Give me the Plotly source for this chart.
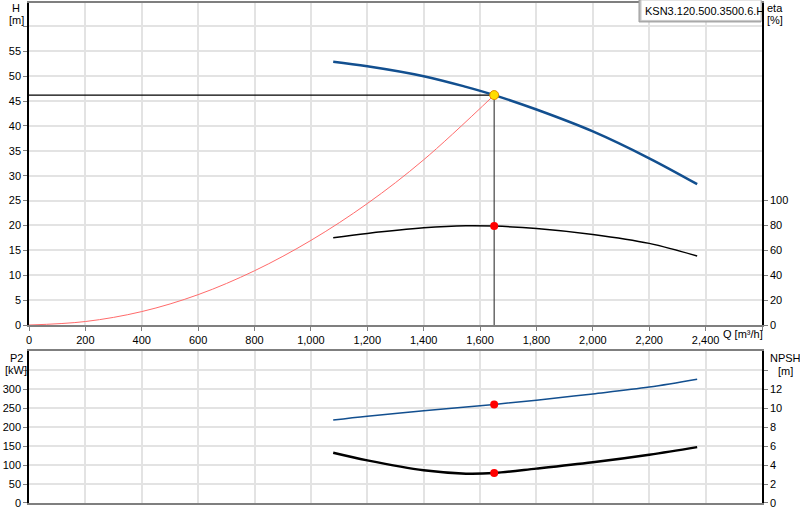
import plotly.graph_objects as go

# ---------------- data ----------------
Q_pump = [1079, 1200, 1400, 1550, 1650, 1800, 2000, 2200, 2370]
H_pump = [52.9, 52.0, 50.0, 47.85, 46.2, 43.3, 38.9, 33.5, 28.3]
eta_pump = [70.1, 73.6, 78.1, 79.8, 79.5, 77.6, 72.8, 65.6, 55.4]
P2_pump = [219, 229, 243.5, 253.5, 260.2, 271.5, 288, 306, 326.7]
NPSH_pump = [5.3, 4.5, 3.45, 3.1, 3.17, 3.63, 4.3, 5.1, 5.9]

Q_sys = [0, 200, 400, 600, 800, 1000, 1200, 1400, 1650]
H_sys = [0, 0.7, 2.7, 6.1, 10.9, 17.0, 24.4, 33.2, 46.2]

Q_duty = 1650
H_duty = 46.2
eta_duty = 79.5
P2_duty = 260.2
NPSH_duty = 3.17

x_ticks = [0, 200, 400, 600, 800, 1000, 1200, 1400, 1600, 1800, 2000, 2200, 2400, 2600]
x_labels = ["0", "200", "400", "600", "800", "1,000", "1,200", "1,400", "1,600",
            "1,800", "2,000", "2,200", "2,400", ""]
H_ticks = [0, 5, 10, 15, 20, 25, 30, 35, 40, 45, 50, 55, 60]
H_labels = ["0", "5", "10", "15", "20", "25", "30", "35", "40", "45", "50", "55", ""]
eta_ticks = [0, 20, 40, 60, 80, 100]
P2_ticks = [0, 50, 100, 150, 200, 250, 300, 350]
P2_labels = ["0", "50", "100", "150", "200", "250", "300", ""]
NPSH_ticks = [0, 2, 4, 6, 8, 10, 12, 14]
NPSH_labels = ["0", "2", "4", "6", "8", "10", "12", ""]
pump_name = "KSN3.120.500.3500.6.H"

# ---------------- geometry ----------------
W, Hh = 800, 520
ML, MR, MT, MB = 29, 38, 1, 17
PW = W - ML - MR
PH = Hh - MT - MB


def px(x):
    return (x - ML) / PW


def py(y):
    return (Hh - MB - y) / PH


FONT = "Liberation Sans, Arial, sans-serif"
GRID = "#e3e3e3"
BLUE = "#124f8f"

fig = go.Figure()

# system curve
fig.add_trace(go.Scatter(x=Q_sys, y=H_sys, mode="lines", line=dict(color="#ff6b6b", width=1, shape="spline"),
                         xaxis="x", yaxis="y", hoverinfo="skip"))
# crosshair lines
fig.add_trace(go.Scatter(x=[0, Q_duty], y=[H_duty, H_duty], mode="lines",
                         line=dict(color="#000000", width=1.2), xaxis="x", yaxis="y"))
fig.add_trace(go.Scatter(x=[Q_duty, Q_duty], y=[H_duty, 0], mode="lines",
                         line=dict(color="#444444", width=1.2), xaxis="x", yaxis="y"))
# H curve
fig.add_trace(go.Scatter(x=Q_pump, y=H_pump, mode="lines", line=dict(color=BLUE, width=2.5, shape="spline"),
                         xaxis="x", yaxis="y"))
# eta curve
fig.add_trace(go.Scatter(x=Q_pump, y=eta_pump, mode="lines", line=dict(color="#000000", width=1.5, shape="spline"),
                         xaxis="x", yaxis="y2"))
fig.add_trace(go.Scatter(x=[Q_duty], y=[eta_duty], mode="markers",
                         marker=dict(color="#ff0000", size=8), xaxis="x", yaxis="y2"))
fig.add_trace(go.Scatter(x=[Q_duty], y=[H_duty], mode="markers",
                         marker=dict(color="#ffdd00", size=9, line=dict(color="#e08a00", width=1)),
                         xaxis="x", yaxis="y"))
# P2 curve
fig.add_trace(go.Scatter(x=Q_pump, y=P2_pump, mode="lines", line=dict(color=BLUE, width=1.5, shape="spline"),
                         xaxis="x2", yaxis="y3"))
fig.add_trace(go.Scatter(x=[Q_duty], y=[P2_duty], mode="markers",
                         marker=dict(color="#ff0000", size=8), xaxis="x2", yaxis="y3"))
# NPSH curve
fig.add_trace(go.Scatter(x=Q_pump, y=NPSH_pump, mode="lines", line=dict(color="#000000", width=2.5, shape="spline"),
                         xaxis="x2", yaxis="y4"))
fig.add_trace(go.Scatter(x=[Q_duty], y=[NPSH_duty], mode="markers",
                         marker=dict(color="#ff0000", size=8), xaxis="x2", yaxis="y4"))

top_dom = [py(324.3), 1]
bot_dom = [0, py(350.5)]
H_top = 64.7
P2_top = 401

tickfont = dict(family=FONT, size=11, color="#000000")

fig.update_layout(
    width=W, height=Hh, margin=dict(l=ML, r=MR, t=MT, b=MB),
    paper_bgcolor="white", plot_bgcolor="white", showlegend=False,
    font=dict(family=FONT, size=11, color="#000000"),
    xaxis=dict(domain=[0, 1], range=[0, 2600], anchor="y", tickvals=x_ticks, ticktext=x_labels,
               showgrid=True, gridcolor=GRID, gridwidth=1.5, showline=True, linecolor="#7f7f7f", linewidth=2,
               mirror=True, ticks="outside", ticklen=4, tickcolor="#7f7f7f", tickfont=tickfont,
               zeroline=False, fixedrange=True),
    yaxis=dict(domain=top_dom, range=[0, H_top], anchor="x", tickvals=H_ticks, ticktext=H_labels,
               showgrid=True, gridcolor=GRID, gridwidth=1.5, showline=True, linecolor="#000000", linewidth=1.5,
               ticks="outside", ticklen=4, tickcolor="#7f7f7f", tickfont=tickfont, zeroline=False),
    yaxis2=dict(overlaying="y", side="right", range=[0, H_top * 4], anchor="x", tickvals=eta_ticks,
                showgrid=False, showline=True, linecolor="#000000", linewidth=1.5,
                ticks="outside", ticklen=4, tickcolor="#7f7f7f", tickfont=tickfont, zeroline=False),
    xaxis2=dict(domain=[0, 1], range=[0, 2600], anchor="y3", tickvals=x_ticks, showticklabels=False,
                showgrid=True, gridcolor=GRID, gridwidth=1.5, showline=True, linecolor="#7f7f7f", linewidth=2,
                mirror=True, ticks="", zeroline=False),
    yaxis3=dict(domain=bot_dom, range=[0, P2_top], anchor="x2", tickvals=P2_ticks, ticktext=P2_labels,
                showgrid=True, gridcolor=GRID, gridwidth=1.5, showline=True, linecolor="#000000", linewidth=1.5,
                ticks="outside", ticklen=4, tickcolor="#7f7f7f", tickfont=tickfont, zeroline=False),
    yaxis4=dict(overlaying="y3", side="right", range=[0, P2_top / 25], anchor="x2", tickvals=NPSH_ticks,
                ticktext=NPSH_labels, showgrid=False, showline=True, linecolor="#000000", linewidth=1.5,
                ticks="outside", ticklen=4, tickcolor="#7f7f7f", tickfont=tickfont, zeroline=False),
)


def label(text, x, y, xanchor="center"):
    fig.add_annotation(text=text, x=px(x), y=py(y), xref="paper", yref="paper", showarrow=False,
                       xanchor=xanchor, yanchor="middle", font=dict(family=FONT, size=11, color="#000000"))


label("H", 16, 6)
label("[m]", 16, 18)
label("eta", 775, 6)
label("[%]", 775, 18)
label("P2", 16, 357)
label("[kW]", 16, 369)
label("NPSH", 785, 357)
label("[m]", 785, 370)
label("Q [m³/h]", 721, 333, xanchor="left")

# legend box (with a light shadow)
fig.add_shape(type="rect", xref="paper", yref="paper", x0=px(639), x1=px(761), y0=py(20), y1=py(-2),
              line=dict(color="#9a9a9a", width=1), fillcolor="#bdbdbd", layer="above")
fig.add_shape(type="rect", xref="paper", yref="paper", x0=px(641), x1=px(761), y0=py(18.5), y1=py(-2),
              line=dict(color="#c8c8c8", width=1), fillcolor="white", layer="above")
fig.add_annotation(text=pump_name, x=px(643), y=py(9.5), xref="paper", yref="paper", showarrow=False,
                   xanchor="left", yanchor="middle", font=dict(family=FONT, size=11, color="#000000"))

fig.write_html("out.html", config={"displayModeBar": False},
               post_script="document.body.style.margin='0';")
